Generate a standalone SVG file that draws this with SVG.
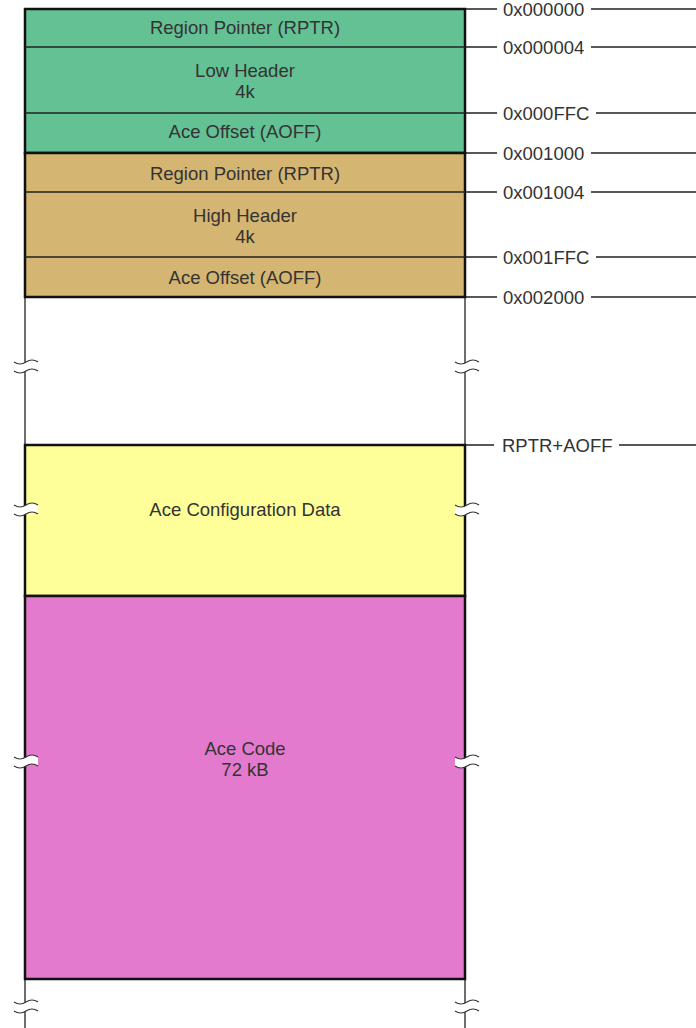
<svg xmlns="http://www.w3.org/2000/svg" xmlns:xlink="http://www.w3.org/1999/xlink" width="696" height="1028" viewBox="0 0 696 1028">
<style>
text{font-family:"Liberation Sans",Arial,sans-serif;font-size:18.5px;fill:#333333}
.c{text-anchor:middle}
.div{stroke:#222;stroke-width:1.3;fill:none}
.box{stroke:#111;stroke-width:2.5}
.thin{stroke:#222;stroke-width:1.3;fill:none}
.wave{stroke:#333;stroke-width:1.2;fill:none}
</style>
<defs>
<g id="brk">
<path d="M-12,0 Q-6,4 0,0 T12,0 L12,9 Q6,5 0,9 T-12,9 Z" fill="#fff" stroke="none"/>
<path class="wave" d="M-12,0 Q-6,4 0,0 T12,0"/>
<path class="wave" d="M-12,9 Q-6,13 0,9 T12,9"/>
</g>
</defs>
<rect width="696" height="1028" fill="#fff"/>
<g id="connectors">
<path class="thin" d="M25,297 V445 M465,297 V445 M25,979 V1028 M465,979 V1028"/>
<path class="thin" d="M465,9 H497 M591,9 H696 M465,47 H497 M591,47 H696 M465,113 H497 M596,113 H696 M465,153 H497 M591,153 H696 M465,192 H497 M591,192 H696 M465,257 H497 M596,257 H696 M465,297 H497 M591,297 H696 M465,445 H494 M619,445 H696"/>
</g>
<g id="low-header">
<rect class="box" x="25" y="9" width="440" height="144" fill="#64C194"/>
<path class="div" d="M25,47 H465 M25,113 H465"/>
<text class="c" x="245" y="34">Region Pointer (RPTR)</text>
<text class="c" x="245" y="77">Low Header</text>
<text class="c" x="245" y="98">4k</text>
<text class="c" x="245" y="138">Ace Offset (AOFF)</text>
</g>
<g id="high-header">
<rect class="box" x="25" y="153" width="440" height="144" fill="#D5B572"/>
<path class="div" d="M25,192 H465 M25,257 H465"/>
<text class="c" x="245" y="180">Region Pointer (RPTR)</text>
<text class="c" x="245" y="222">High Header</text>
<text class="c" x="245" y="243">4k</text>
<text class="c" x="245" y="284">Ace Offset (AOFF)</text>
</g>
<g id="ace-config">
<rect class="box" x="25" y="445" width="440" height="151" fill="#FFFF99"/>
<text class="c" x="245" y="516">Ace Configuration Data</text>
</g>
<g id="ace-code">
<rect class="box" x="25" y="596" width="440" height="383" fill="#E47ACD"/>
<text class="c" x="245" y="755">Ace Code</text>
<text class="c" x="245" y="776">72 kB</text>
</g>
<g id="labels">
<text x="503" y="15.7">0x000000</text>
<text x="503" y="53.7">0x000004</text>
<text x="503" y="119.7">0x000FFC</text>
<text x="503" y="159.7">0x001000</text>
<text x="503" y="198.7">0x001004</text>
<text x="503" y="263.7">0x001FFC</text>
<text x="503" y="303.7">0x002000</text>
<text x="502" y="451.7">RPTR+AOFF</text>
</g>
<g id="breaks">
<use xlink:href="#brk" transform="translate(26,362)"/>
<use xlink:href="#brk" transform="translate(467,362)"/>
<use xlink:href="#brk" transform="translate(26,505)"/>
<use xlink:href="#brk" transform="translate(467,505)"/>
<use xlink:href="#brk" transform="translate(26,757)"/>
<use xlink:href="#brk" transform="translate(467,757)"/>
<use xlink:href="#brk" transform="translate(26,1002)"/>
<use xlink:href="#brk" transform="translate(467,1002)"/>
</g>
</svg>
